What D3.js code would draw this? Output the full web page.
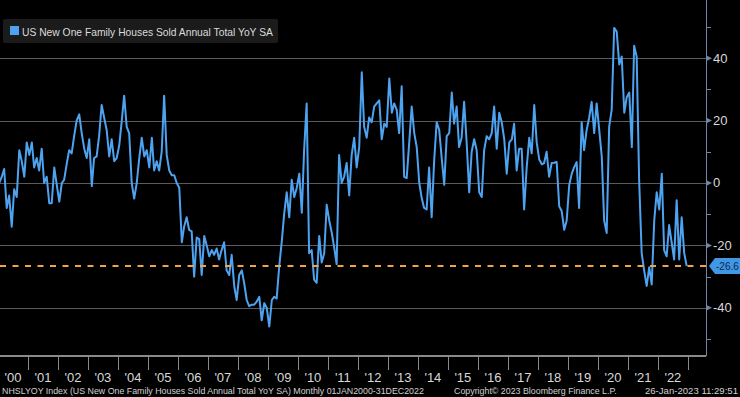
<!DOCTYPE html>
<html>
<head>
<meta charset="utf-8">
<script src="https://cdn.jsdelivr.net/npm/d3@7"></script>
<style>
  html, body { margin: 0; padding: 0; background: #000; }
  svg { display: block; }
  text { font-family: "Liberation Sans Narrow", "Arial Narrow", "Liberation Sans", Arial, sans-serif; }
</style>
</head>
<body>
<svg id="chart" width="740" height="397"></svg>
<script>
// ---------------- DATA ----------------
const seriesName = "US New One Family Houses Sold Annual Total YoY SA";
const startYear = 2000;
const yearLabels = ["'00","'01","'02","'03","'04","'05","'06","'07","'08","'09","'10","'11",
                    "'12","'13","'14","'15","'16","'17","'18","'19","'20","'21","'22"];
const yTickValues = [40, 20, 0, -20, -40];
const yMinorTicks = [50, 30, 10, -10, -30, -50];
const lastValue = -26.6;
// monthly YoY %, Jan 2000 .. Dec 2022 (one row per year)
const v2000 = [0, 2, 4.5, -8, -4, -14, -2, -4.5, 10.5, 7, 2, 13];
const v2001 = [9, 13, 5, 8, 4, 11, 0, 2, -6.5, -6.5, 5, -0.5];
const v2002 = [-6, 0, 1, 6, 10.5, 9.5, 15, 20, 22, 16, 11, 8];
const v2003 = [14, -1, 8, 8.5, 15, 25, 21, 17, 8.5, 14, 7, 8];
const v2004 = [12, 20, 28, 18, 16, 0, -5, 0, 8, 14.5, 8.5, 10.5];
const v2005 = [5, 14.5, 4, 7, 4, 10, 28, 9, 4, 2.5, 2.5, 0];
const v2006 = [-1.5, -19, -14, -11, -15, -15.5, -30, -17.5, -18, -29.5, -17, -20];
const v2007 = [-23.5, -21.5, -23, -21, -24.5, -21.5, -19, -28, -29.5, -23, -33, -37.5];
const v2008 = [-29.5, -28, -32, -37.5, -39.5, -39, -39, -38, -36.5, -44, -38.5, -40];
const v2009 = [-46, -37.5, -36.5, -37, -27, -19, -10, -3, -11, 1, -4.5, -1.6];
const v2010 = [3, -9.5, 10.5, 25.5, -22.5, -21.5, -31, -32, -17, -25.5, -22.5, -7];
const v2011 = [-12, -16, -20.5, -26, 9, 0, 2, 6.4, -4, 9, 14.5, 5];
const v2012 = [11.5, 35.5, 18, 14.5, 21, 19.5, 24.5, 25.5, 26.5, 14, 19, 18];
const v2013 = [33.5, 22.5, 25.5, 23.5, 16, 31, 2, 1.6, 13, 24.5, 16, 11.5];
const v2014 = [0, -5, -8, -8.5, 5, -11, 7, 19.5, 17, 8, -0.6, 15];
const v2015 = [16, 29, 19, 24.5, 11.5, 14.5, 26, 13, -3, 10, 14, 10.5];
const v2016 = [-3, -4.5, 10.5, 15, 14, 16, 24.5, 11, 22.5, 19.5, 14, 3];
const v2017 = [13, 14, 19, 4, 11, 11, -8.5, 5, 14.5, 9.5, 25, 13];
const v2018 = [7.5, 6, 6.4, 10, 2, 6.4, 6.5, 6.7, -7.5, -9, -15, -12];
const v2019 = [-0.6, 3, 5, 6.7, -8, 19.5, 10.5, 17, 21, 26, 16, 25.5];
const v2020 = [17, 8.5, -12, -16, 18, 23.5, 49.7, 48.5, 38, 40.5, 22.5, 27.5];
const v2021 = [29, 11.5, 44, 40.5, 1, -22.5, -28, -33, -27, -32.5, -12, -3];
const v2022 = [-8.5, 3, -21.5, -23.5, -13.5, -19, -24.5, -5.5, -24.5, -11, -22.5, -26.6];
const yearly = [v2000,v2001,v2002,v2003,v2004,v2005,v2006,v2007,v2008,v2009,v2010,v2011,
                v2012,v2013,v2014,v2015,v2016,v2017,v2018,v2019,v2020,v2021,v2022];

const data = [];
yearly.forEach((arr, yi) => arr.forEach((v, m) => {
  data.push({ date: new Date(startYear + yi, m, 16), value: v });
}));

// shrink a text's font so that its natural width fits a target width
function fitText(sel, maxWidth) {
  sel.each(function () {
    const node = this;
    let fs = parseFloat(node.getAttribute("font-size") || 12);
    const len = node.getComputedTextLength();
    if (len > maxWidth) {
      fs = fs * maxWidth / len;
      node.setAttribute("font-size", fs.toFixed(2));
    }
  });
}

// ---------------- LAYOUT ----------------
const svg = d3.select("#chart");
const W = 740, H = 397;
const plotRight = 706, plotBottom = 356;

svg.append("rect").attr("width", W).attr("height", H).attr("fill", "#000");

const x = d3.scaleTime()
  .domain([new Date(2000, 0, 1), new Date(2023, 0, 1)])
  .range([-2, 688]);
const y = d3.scaleLinear()
  .domain([-55.45, 58.65])
  .range([plotBottom, 0]);

// gridlines
svg.append("g").selectAll("line")
  .data(yTickValues).join("line")
  .attr("x1", 0).attr("x2", plotRight)
  .attr("y1", d => Math.round(y(d)) + 0.5).attr("y2", d => Math.round(y(d)) + 0.5)
  .attr("stroke", "#5a5a5a").attr("stroke-width", 1);

// bottom axis line + year separators + labels
svg.append("line")
  .attr("x1", 0).attr("x2", plotRight)
  .attr("y1", plotBottom).attr("y2", plotBottom)
  .attr("stroke", "#8a8a8a").attr("stroke-width", 2);

const sepYears = d3.range(2001, 2024);
svg.append("g").selectAll("line")
  .data(sepYears).join("line")
  .attr("x1", d => Math.round(x(new Date(d, 0, 1))) + 0.5)
  .attr("x2", d => Math.round(x(new Date(d, 0, 1))) + 0.5)
  .attr("y1", plotBottom).attr("y2", 370)
  .attr("stroke", "#8a8a8a").attr("stroke-width", 1);

svg.append("g").selectAll("text")
  .data(yearLabels).join("text")
  .attr("x", (d, i) => x(new Date(startYear + i, 6, 1)))
  .attr("y", 382)
  .attr("text-anchor", "middle")
  .attr("fill", "#d8d8d8")
  .attr("font-size", 13)
  .text(d => d);

// right axis
const axisColor = "#6f86a8";
svg.append("line")
  .attr("x1", plotRight + 0.5).attr("x2", plotRight + 0.5)
  .attr("y1", 0).attr("y2", plotBottom)
  .attr("stroke", axisColor).attr("stroke-width", 1);

const axisG = svg.append("g");
axisG.selectAll("path.major")
  .data(yTickValues).join("path")
  .attr("class", "major")
  .attr("d", d => {
    const yy = y(d);
    return `M${plotRight},${yy - 3}L${plotRight + 6},${yy}L${plotRight},${yy + 3}Z`;
  })
  .attr("fill", axisColor);
axisG.selectAll("line.minor")
  .data(yMinorTicks).join("line")
  .attr("class", "minor")
  .attr("x1", plotRight).attr("x2", plotRight + 5)
  .attr("y1", d => Math.round(y(d)) + 0.5).attr("y2", d => Math.round(y(d)) + 0.5)
  .attr("stroke", axisColor).attr("stroke-width", 1);
axisG.selectAll("text")
  .data(yTickValues).join("text")
  .attr("x", plotRight + 7)
  .attr("y", d => y(d) + 4.5)
  .attr("fill", "#d8d8d8")
  .attr("font-size", 13)
  .text(d => d === 0 ? "0" : (d < 0 ? "-" + Math.abs(d) : String(d)))
  .call(fitText, 24);

// series line
const line = d3.line()
  .x(d => x(d.date))
  .y(d => y(d.value));
svg.append("path")
  .datum(data)
  .attr("d", line)
  .attr("fill", "none")
  .attr("stroke", "#4ea3f0")
  .attr("stroke-width", 2)
  .attr("stroke-linejoin", "round");

// last value dashed line
svg.append("line")
  .attr("x1", 0).attr("x2", plotRight)
  .attr("y1", y(lastValue)).attr("y2", y(lastValue))
  .attr("stroke", "#f2a445").attr("stroke-width", 2)
  .attr("stroke-dasharray", "6,6.5");

// last value tag
const ty = y(lastValue);
svg.append("path")
  .attr("d", `M${plotRight + 3},${ty}L${plotRight + 9},${ty - 8}L740,${ty - 8}L740,${ty + 8}L${plotRight + 9},${ty + 8}Z`)
  .attr("fill", "#3f97e6");
svg.append("text")
  .attr("x", plotRight + 10).attr("y", ty + 4.5)
  .attr("fill", "#0b2a4a").attr("font-size", 13)
  .text(lastValue.toFixed(1))
  .call(fitText, 23);

// legend
const lg = svg.append("g");
lg.append("rect").attr("x", 3).attr("y", 19).attr("width", 275).attr("height", 24)
  .attr("rx", 2).attr("fill", "#1b1b1b");
lg.append("rect").attr("x", 10).attr("y", 26).attr("width", 9).attr("height", 9)
  .attr("fill", "#4ea3f0");
lg.append("text").attr("x", 22).attr("y", 36)
  .attr("fill", "#dcdcdc").attr("font-size", 13)
  .text(seriesName)
  .call(fitText, 251);

// footer
const foot = svg.append("g").attr("fill", "#d0d0d0");
foot.append("text").attr("x", 2).attr("y", 394).attr("font-size", 11.5)
  .text("NHSLYOY Index (US New One Family Houses Sold Annual Total YoY SA)  Monthly 01JAN2000-31DEC2022")
  .call(fitText, 422);
foot.append("text").attr("x", 454).attr("y", 394).attr("font-size", 11.5)
  .text("Copyright\u00A9 2023 Bloomberg Finance L.P.")
  .call(fitText, 163);
foot.append("text").attr("x", 738).attr("y", 394).attr("font-size", 11.5)
  .attr("text-anchor", "end")
  .text("26-Jan-2023 11:29:51")
  .call(fitText, 93);
</script>
</body>
</html>
